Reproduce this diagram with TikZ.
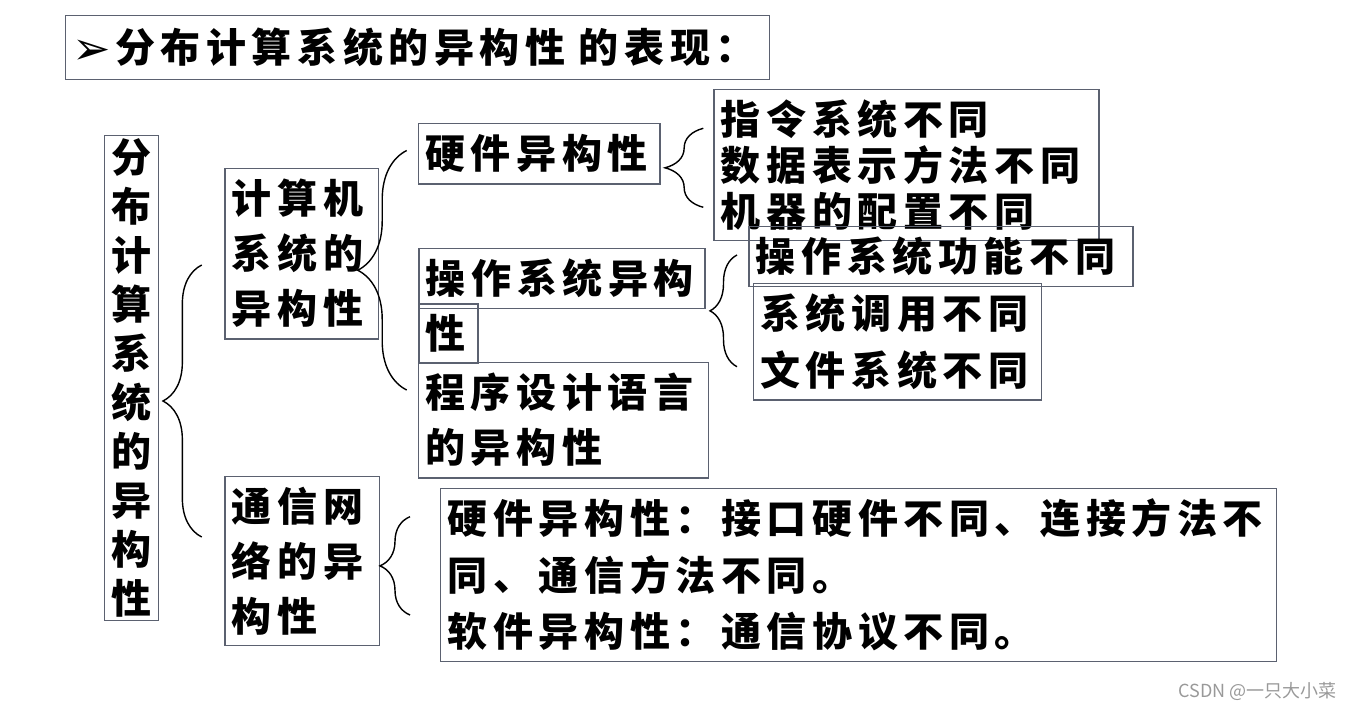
\documentclass[tikz,border=0pt]{standalone}
\usepackage{fontspec}
\usepackage{tikz}
\usetikzlibrary{decorations.pathreplacing}
\usetikzlibrary{positioning}
\newfontfamily\kaifont{Noto Sans CJK SC}[LetterSpace=14]
\newfontfamily\symfont{DejaVu Sans}
\newfontfamily\markfont{Noto Sans CJK SC}
\newcommand\kai[1]{\kaifont\bfseries\fontsize{40}{#1}\selectfont}
\definecolor{boxline}{HTML}{5B6170}

\begin{document}
\begin{tikzpicture}[x=1pt, y=-1pt]

\tikzstyle{box}=[draw=boxline, line width=1.3pt, anchor=north west, align=left, inner xsep=7pt, inner ysep=0pt, font=\kai{55}]
\tikzstyle{line}=[draw, line width=1.4pt, decorate]

\useasboundingbox (0,0) rectangle (1354,710);

\node[box, text width=690pt, minimum height=64pt] (title) at (65,15) {\raisebox{-2pt}{\symfont\fontsize{46}{46}\selectfont ➢}\hspace{4pt}分布计算系统的异构性 的表现：};

\node[box, text width=40pt, minimum height=485pt, align=center, font=\kai{49}] (whole) at (104,135) {分\\布\\计\\算\\系\\统\\的\\异\\构\\性};

\node[box, text width=139.4pt, minimum height=170.6pt] (computer) at (224.3,167.7) {计算机\\系统的\\异构性};
\node[box, text width=140.7pt, minimum height=169pt] (network) at (224.3,476) {通信网\\络的异\\构性};

\node[box, text width=227.6pt, minimum height=60.6pt] (hardware) at (417.7,122.7) {硬件异构性};
\node[box, text width=272pt, minimum height=60pt] (os) at (418.3,247.7) {操作系统异构};
\node[box, text width=45pt, minimum height=59.4pt] (os_tail) at (418.3,303.3) {性};
\node[box, text width=276pt, minimum height=115.6pt] (language) at (417.7,361.7) {程序设计语言\\的异构性};

\node[box, text width=371pt, minimum height=151pt, font=\kai{46}] (hardware_items) at (713.3,89) {指令系统不同\\数据表示方法不同\\机器的配置不同};
\node[box, text width=370pt, minimum height=60pt] (os_function) at (748.3,225.7) {操作系统功能不同};
\node[box, text width=274.3pt, minimum height=116.6pt, font=\kai{56.7}] (os_items) at (752.7,282.7) {系统调用不同\\文件系统不同};
\node[box, text width=822pt, minimum height=173pt, font=\kai{56.5}] (network_items) at (440,488) {硬件异构性：接口硬件不同、连接方法不\\同、通信方法不同。\\软件异构性：通信协议不同。};

\node[font=\markfont\fontsize{18}{18}\selectfont, text=gray!80, anchor=east] (watermark) at (1340,691) {CSDN @一只大小菜};

% brace ends
\coordinate (whole_top) at (201.7,265);
\coordinate (whole_bot) at (201.7,537);
\coordinate (computer_top) at (406.7,150.5);
\coordinate (computer_bot) at (406.7,390);
\coordinate (network_top) at (410,516.7);
\coordinate (network_bot) at (410,615);
\coordinate (hardware_top) at (703.3,128.3);
\coordinate (hardware_bot) at (703.3,207.3);
\coordinate (os_top) at (737,255);
\coordinate (os_bot) at (737,366.7);

\path[line, decoration={brace, amplitude=38.7pt}] (whole_bot) -- (whole_top);
\path[line, decoration={brace, amplitude=49pt}] (computer_bot) -- (computer_top);
\path[line, decoration={brace, amplitude=30pt}] (network_bot) -- (network_top);
\path[line, decoration={brace, amplitude=38.3pt}] (hardware_bot) -- (hardware_top);
\path[line, decoration={brace, amplitude=27pt}] (os_bot) -- (os_top);

\end{tikzpicture}
\end{document}
